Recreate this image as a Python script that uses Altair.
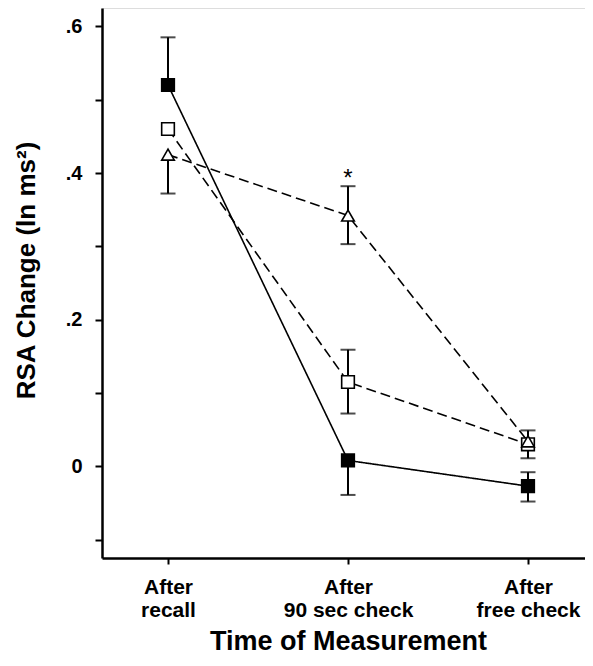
import altair as alt
import pandas as pd

categories = ["After|recall", "After|90 sec check", "After|free check"]
series = ["filled", "open", "triangle"]
filled_vals = [0.520, 0.008, -0.027]
open_vals = [0.460, 0.115, 0.030]
tri_vals = [0.425, 0.342, 0.034]
# error bar ends as drawn (None = not visible)
filled_lo = [None, -0.039, -0.048]
filled_hi = [0.585, None, -0.008]
open_lo = [None, 0.072, 0.011]
open_hi = [None, 0.159, 0.049]
tri_lo = [0.372, 0.303, None]
tri_hi = [None, 0.382, None]
star_idx = 1
star_y = 0.398

FONT = "Liberation Sans, Arial, sans-serif"
W, H = 483, 550

rows, bars, caps = [], [], []
for s, vals, lo, hi in [("filled", filled_vals, filled_lo, filled_hi),
                        ("open", open_vals, open_lo, open_hi),
                        ("triangle", tri_vals, tri_lo, tri_hi)]:
    for i, (v, l, h) in enumerate(zip(vals, lo, hi)):
        rows.append({"i": i, "series": s, "v": v})
        a = l if l is not None else v
        b = h if h is not None else v
        if l is not None or h is not None:
            bars.append({"i": i, "series": s, "lo": a, "hi": b})
        for e in (l, h):
            if e is not None:
                caps.append({"i": i, "series": s, "y": e})

df = pd.DataFrame(rows)
dbar = pd.DataFrame(bars)
dcap = pd.DataFrame(caps)
dstar = pd.DataFrame({"i": [star_idx], "y": [star_y], "t": ["*"]})

xscale = alt.Scale(domain=[-0.3667, 2.3167], nice=False, zero=False)
yscale = alt.Scale(domain=[-0.125, 0.625], nice=False, zero=False)

label_js = "[" + ",".join("'" + c + "'" for c in categories) + "]"
xenc = alt.X("i:Q", scale=xscale,
             axis=alt.Axis(title="Time of Measurement", values=[0, 1, 2],
                           labelExpr="split(" + label_js + "[round(datum.value)], '|')",
                           labelFont=FONT, labelFontSize=21, labelFontWeight="bold",
                           labelColor="black", labelAngle=0, labelBaseline="top",
                           labelPadding=12, labelLineHeight=23, labelFlush=False,
                           labelOverlap=False,
                           tickSize=6, tickWidth=2, tickColor="black", grid=False,
                           domainWidth=2.5, domainColor="black",
                           titleFont=FONT, titleFontSize=27, titleFontWeight="bold",
                           titleColor="black", titleY=83, titleX=246,
                           titleBaseline="middle", titleAnchor="middle"))

yvals = [round(-0.1 + 0.05 * i, 2) for i in range(15)]
yenc_axis = alt.Axis(values=yvals, title="RSA Change (ln ms²)",
                     labelExpr="abs(datum.value) < 1e-9 ? '0' : (abs(datum.value*5 - round(datum.value*5)) < 1e-6 ? replace(format(datum.value, '.1f'), '0.', '.') : '')",
                     labelFont=FONT, labelFontSize=20, labelFontWeight="bold",
                     labelColor="black", labelPadding=13, labelOverlap=False,
                     tickSize=7, tickWidth=2, tickColor="black",
                     domainWidth=2.5, domainColor="black", grid=False,
                     titleFont=FONT, titleFontSize=26, titleFontWeight="bold",
                     titleColor="black", titleAngle=-90, titleX=-76, titleY=262,
                     titleAlign="center", titleBaseline="middle")

shape_scale = alt.Scale(domain=series, range=["square", "square", "triangle-up"])
fill_scale = alt.Scale(domain=series, range=["black", "white", "white"])
dash_scale = alt.Scale(domain=series, range=[[1, 0], [10, 5], [10, 5]])

lines = alt.Chart(df).mark_line(color="black", strokeWidth=1.6).encode(
    x=xenc,
    y=alt.Y("v:Q", scale=yscale, axis=yenc_axis),
    detail="series:N",
    strokeDash=alt.StrokeDash("series:N", scale=dash_scale, legend=None),
)

ebars = alt.Chart(dbar).mark_rule(color="black", strokeWidth=2).encode(
    x=alt.X("i:Q", scale=xscale),
    y=alt.Y("lo:Q", scale=yscale),
    y2="hi:Q",
)

ecaps = alt.Chart(dcap).mark_tick(color="black", thickness=2, size=15, orient="horizontal").encode(
    x=alt.X("i:Q", scale=xscale),
    y=alt.Y("y:Q", scale=yscale),
)

points = alt.Chart(df).mark_point(opacity=1, stroke="black", strokeWidth=1.6, size=160, filled=False).encode(
    x=alt.X("i:Q", scale=xscale),
    y=alt.Y("v:Q", scale=yscale),
    shape=alt.Shape("series:N", scale=shape_scale, legend=None),
    fill=alt.Fill("series:N", scale=fill_scale, legend=None),
)

star = alt.Chart(dstar).mark_text(font=FONT, fontSize=24, color="black", baseline="middle", dy=5).encode(
    x=alt.X("i:Q", scale=xscale),
    y=alt.Y("y:Q", scale=yscale),
    text="t:N",
)

chart = alt.layer(lines, ebars, ecaps, points, star).properties(
    width=W, height=H,
    autosize=alt.AutoSizeParams(type="none"),
    padding={"left": 94, "top": 0, "right": 0, "bottom": 100},
).configure_view(stroke=None).configure(background="white")

chart.save("out.html", embed_options={"renderer": "svg", "actions": False})
